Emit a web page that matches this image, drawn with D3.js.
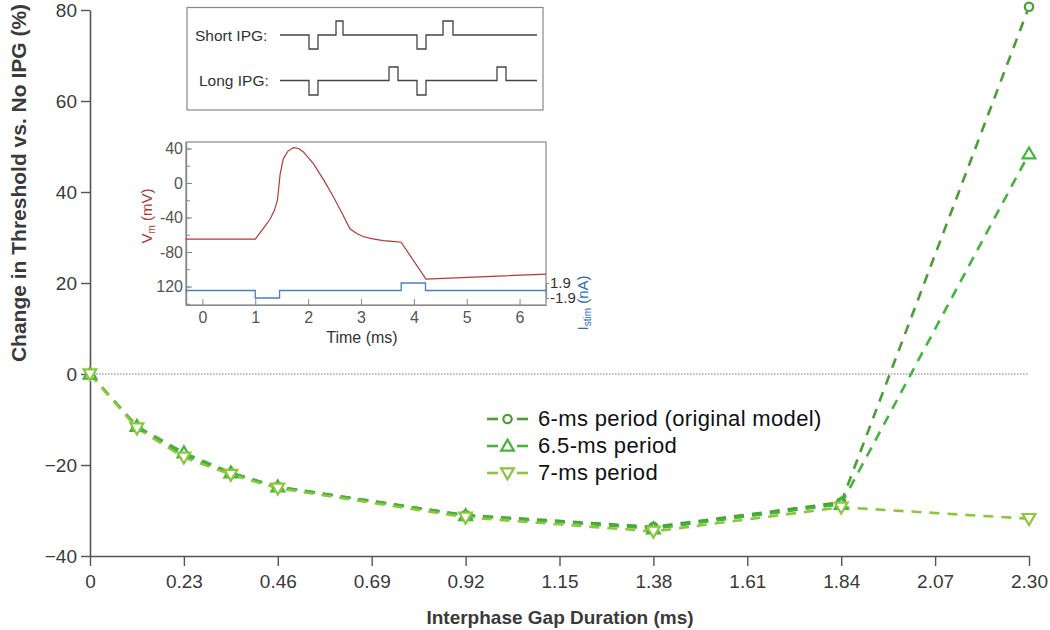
<!DOCTYPE html>
<html><head><meta charset="utf-8">
<script src="https://cdn.jsdelivr.net/npm/d3@7/dist/d3.min.js"></script>
<style>
body{margin:0;background:#fff;}
text{font-family:"Liberation Sans",Arial,sans-serif;}
</style></head>
<body><svg id="c" width="1050" height="630"></svg>
<script>
// ---------- data ----------
const ipg = [0, 0.115, 0.23, 0.345, 0.46, 0.92, 1.38, 1.84, 2.30];
const period6 = [0, -11.6, -17.8, -21.8, -24.8, -31.0, -33.6, -28.2, 80.7];
const period65 = [0, -11.5, -17.3, -21.7, -24.8, -31.1, -34.0, -28.6, 48.4];
const period7 = [0, -11.9, -18.3, -22.1, -25.1, -31.5, -34.6, -29.3, -31.8];
const seriesNames = ["6-ms period (original model)", "6.5-ms period", "7-ms period"];
const xTicks = [0, 0.23, 0.46, 0.69, 0.92, 1.15, 1.38, 1.61, 1.84, 2.07, 2.30];
const xTickLabels = ["0","0.23","0.46","0.69","0.92","1.15","1.38","1.61","1.84","2.07","2.30"];
const yTicks = [-40, -20, 0, 20, 40, 60, 80];

// inset: voltage trace (time ms, mV)
const vmTime = [-0.32, 1.0, 1.15, 1.28, 1.36, 1.42, 1.47, 1.53, 1.62, 1.72, 1.82, 1.91, 2.10, 2.30, 2.48, 2.65, 2.79, 2.92, 3.04, 3.2, 3.42, 3.6, 3.76, 4.23, 6.5];
const vmVals = [-65, -65, -53, -42, -32, -20, 10, 28, 37, 41, 40, 36, 22.5, 3, -16.3, -36, -53, -58.5, -62, -64.5, -66.8, -67.7, -68.7, -111.5, -105.6];
// inset: stimulus current (time ms, nA)
const iTime = [-0.32, 1.0, 1.0, 1.46, 1.46, 3.76, 3.76, 4.22, 4.22, 6.5];
const iVals = [0, 0, -1.9, -1.9, 0, 0, 1.9, 1.9, 0, 0];
const insetTimeTicks = [0, 1, 2, 3, 4, 5, 6];
const insetVTicks = [40, 0, -40, -80, -120];
const insetVTickLabels = ["40", "0", "-40", "-80", "120"];
const insetITicks = [1.9, -1.9];
// schematic pulse trains (arbitrary units, level)
const shortX = [0, 29, 29, 38, 38, 56, 56, 63, 63, 137, 137, 146, 146, 163, 163, 173, 173, 257];
const shortL = [0, 0, -1, -1, 0, 0, 1, 1, 0, 0, -1, -1, 0, 0, 1, 1, 0, 0];
const longX = [0, 29, 29, 38, 38, 109, 109, 118, 118, 137, 137, 146, 146, 217, 217, 226, 226, 257];
const longL = [0, 0, -1, -1, 0, 0, 1, 1, 0, 0, -1, -1, 0, 0, 1, 1, 0, 0];

// ---------- main chart ----------
const svg = d3.select("#c");
const colors = ["#4a9e35", "#43b53a", "#8cc63f"];
const x = d3.scaleLinear().domain([0, 2.30]).range([90, 1029]);
const y = d3.scaleLinear().domain([-40, 80]).range([556, 10]);

// zero reference line
svg.append("line").attr("x1", x(0)).attr("x2", x(2.30)).attr("y1", y(0)).attr("y2", y(0))
  .attr("stroke", "#777").attr("stroke-width", 1.2).attr("stroke-dasharray", "1.5,1.5");

const xAxis = svg.append("g").attr("transform", `translate(0,${y(-40)})`)
  .call(d3.axisBottom(x).tickValues(xTicks).tickFormat((d, i) => xTickLabels[i]).tickSize(10).tickSizeOuter(0).tickPadding(9));
const yAxis = svg.append("g").attr("transform", `translate(${x(0)},0)`)
  .call(d3.axisLeft(y).tickValues(yTicks).tickSize(9).tickSizeOuter(0).tickPadding(4));
[xAxis, yAxis].forEach(g => {
  g.select(".domain").attr("stroke", "#555").attr("stroke-width", 1.6);
  g.selectAll(".tick line").attr("stroke", "#555").attr("stroke-width", 1.4);
  g.selectAll(".tick text").attr("fill", "#3a3a3a").style("font-size", "19px").style("font-family", "Liberation Sans, Arial");
});

svg.append("text").attr("x", 560).attr("y", 624).attr("text-anchor", "middle")
  .attr("font-weight", "bold").attr("font-size", "19px").attr("fill", "#3a3a3a").text("Interphase Gap Duration (ms)");
svg.append("text").attr("transform", "translate(26,183) rotate(-90)").attr("text-anchor", "middle")
  .attr("font-weight", "bold").attr("font-size", "21px").attr("fill", "#3a3a3a").text("Change in Threshold vs. No IPG (%)");

const allSeries = [period6, period65, period7];
const line = d3.line().x(d => x(d[0])).y(d => y(d[1]));
const triUp = d3.symbol().type(d3.symbolTriangle).size(70);

function drawMarker(g, type, cx, cy, color) {
  if (type === 0) {
    g.append("circle").attr("cx", cx).attr("cy", cy).attr("r", 4.2).attr("fill", "#fff").attr("stroke", color).attr("stroke-width", 2.2);
  } else {
    g.append("path").attr("d", triUp()).attr("transform", `translate(${cx},${cy + (type === 1 ? 1 : -1)}) rotate(${type === 1 ? 0 : 180})`)
      .attr("fill", "#fff").attr("stroke", color).attr("stroke-width", 2.2);
  }
}

allSeries.forEach((vals, si) => {
  const pts = ipg.map((d, i) => [d, vals[i]]);
  svg.append("path").attr("d", line(pts)).attr("fill", "none").attr("stroke", colors[si])
    .attr("stroke-width", 2.6).attr("stroke-dasharray", "10,8");
});
allSeries.forEach((vals, si) => {
  const g = svg.append("g");
  ipg.forEach((d, i) => drawMarker(g, si, x(d), y(vals[i]), colors[si]));
});

// legend
const leg = svg.append("g");
const legY = [419, 446, 473];
seriesNames.forEach((name, i) => {
  leg.append("line").attr("x1", 487).attr("x2", 498).attr("y1", legY[i]).attr("y2", legY[i]).attr("stroke", colors[i]).attr("stroke-width", 2.6);
  leg.append("line").attr("x1", 517).attr("x2", 528).attr("y1", legY[i]).attr("y2", legY[i]).attr("stroke", colors[i]).attr("stroke-width", 2.6);
  drawMarker(leg, i, 507.5, legY[i], colors[i]);
  leg.append("text").attr("x", 538).attr("y", legY[i] + 7).attr("font-size", "22px").attr("letter-spacing", "0.35px").attr("fill", "#111").text(name);
});

// ---------- inset 1: schematic ----------
svg.append("rect").attr("x", 187).attr("y", 7.5).attr("width", 356).attr("height", 102.5)
  .attr("fill", "#fff").attr("stroke", "#888").attr("stroke-width", 1.2);
const sx = d3.scaleLinear().domain([0, 257]).range([280, 537]);
const syShort = d3.scaleLinear().domain([-1, 0, 1]).range([49, 35, 21]);
const syLong = d3.scaleLinear().domain([-1, 0, 1]).range([95, 80.5, 67]);
const sLine = (ys) => d3.line().x(d => sx(d[0])).y(d => ys(d[1]));
svg.append("path").attr("d", sLine(syShort)(shortX.map((d, i) => [d, shortL[i]])))
  .attr("fill", "none").attr("stroke", "#444").attr("stroke-width", 1.3);
svg.append("path").attr("d", sLine(syLong)(longX.map((d, i) => [d, longL[i]])))
  .attr("fill", "none").attr("stroke", "#444").attr("stroke-width", 1.3);
svg.append("text").attr("x", 195).attr("y", 41).attr("font-size", "15.5px").attr("fill", "#333").text("Short IPG:");
svg.append("text").attr("x", 199).attr("y", 86).attr("font-size", "15.5px").attr("fill", "#333").text("Long IPG:");

// ---------- inset 2: voltage & current ----------
const ix = d3.scaleLinear().domain([-0.31, 6.5]).range([186, 546]);
const iyV = d3.scaleLinear().domain([-141.4, 47.5]).range([305, 142]);
const iyI = d3.scaleLinear().domain([-1.9, 1.9]).range([298, 283]);

svg.append("rect").attr("x", 186).attr("y", 142).attr("width", 360).attr("height", 163)
  .attr("fill", "#fff").attr("stroke", "#888").attr("stroke-width", 1.2);

const inAxB = svg.append("g").attr("transform", "translate(0,305)")
  .call(d3.axisBottom(ix).tickValues(insetTimeTicks).tickFormat(d3.format("d")).tickSize(-6).tickSizeOuter(0).tickPadding(7));
const minorV = d3.range(-140, 41, 20);
const inAxLminor = svg.append("g").attr("transform", "translate(186,0)")
  .call(d3.axisLeft(iyV).tickValues(minorV).tickSize(-4).tickFormat("").tickSizeOuter(0));
const inAxL = svg.append("g").attr("transform", "translate(186,0)")
  .call(d3.axisLeft(iyV).tickValues(insetVTicks).tickFormat((d, i) => insetVTickLabels[i]).tickSize(-6).tickSizeOuter(0).tickPadding(3));
const inAxR = svg.append("g").attr("transform", "translate(546,0)")
  .call(d3.axisRight(iyI).tickValues(insetITicks).tickFormat(d => d.toFixed(1)).tickSize(3).tickSizeOuter(0).tickPadding(1));
[inAxB, inAxL, inAxLminor, inAxR].forEach(g => {
  g.select(".domain").attr("stroke", "#888").attr("stroke-width", 1.2);
  g.selectAll(".tick line").attr("stroke", "#888");
  g.selectAll(".tick text").attr("fill", "#555").style("font-size", "16px").style("font-family", "Liberation Sans, Arial");
});
inAxR.selectAll(".tick text").attr("fill", "#333").style("font-size", "15px");

svg.append("path").attr("d", d3.line().x(d => ix(d[0])).y(d => iyV(d[1]))(vmTime.map((t, i) => [t, vmVals[i]])))
  .attr("fill", "none").attr("stroke", "#b03a3a").attr("stroke-width", 1.2);
svg.append("path").attr("d", d3.line().x(d => ix(d[0])).y(d => iyI(d[1]))(iTime.map((t, i) => [t, iVals[i]])))
  .attr("fill", "none").attr("stroke", "#4a7fc8").attr("stroke-width", 1.3);

svg.append("text").attr("x", 362).attr("y", 343).attr("text-anchor", "middle").attr("font-size", "16px").attr("fill", "#333").text("Time (ms)");
const vmLab = svg.append("text").attr("transform", "translate(152,216) rotate(-90)").attr("text-anchor", "middle")
  .attr("font-size", "15px").attr("fill", "#b03a3a");
vmLab.append("tspan").text("V");
vmLab.append("tspan").attr("font-size", "10px").attr("dy", 3).text("m");
vmLab.append("tspan").attr("dy", -3).text(" (mV)");
const isLab = svg.append("text").attr("transform", "translate(588,303) rotate(-90)").attr("text-anchor", "middle")
  .attr("font-size", "15px").attr("fill", "#2a6ebb");
isLab.append("tspan").text("I");
isLab.append("tspan").attr("font-size", "10px").attr("dy", 3).text("stim");
isLab.append("tspan").attr("dy", -3).text(" (nA)");
</script></body></html>
